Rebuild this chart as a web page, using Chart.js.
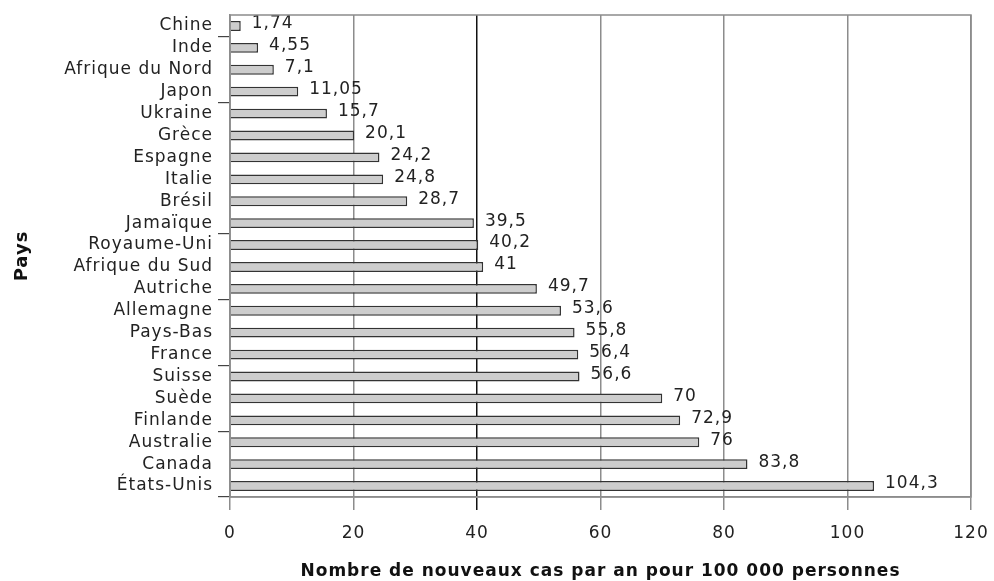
<!DOCTYPE html>
<html>
<head>
<meta charset="utf-8">
<script src="https://cdn.jsdelivr.net/npm/chart.js@4"></script>
<style>
  html, body { margin: 0; padding: 0; background: #fff; }
  #wrap { width: 994px; height: 581px; }
</style>
</head>
<body>
<div id="wrap"><canvas id="c" width="994" height="581"></canvas></div>
<script>
const categories = ["Chine", "Inde", "Afrique du Nord", "Japon", "Ukraine", "Grèce", "Espagne", "Italie", "Brésil", "Jamaïque", "Royaume-Uni", "Afrique du Sud", "Autriche", "Allemagne", "Pays-Bas", "France", "Suisse", "Suède", "Finlande", "Australie", "Canada", "États-Unis"];
const values = [1.74, 4.55, 7.1, 11.05, 15.7, 20.1, 24.2, 24.8, 28.7, 39.5, 40.2, 41, 49.7, 53.6, 55.8, 56.4, 56.6, 70, 72.9, 76, 83.8, 104.3];
const valueLabels = ["1,74", "4,55", "7,1", "11,05", "15,7", "20,1", "24,2", "24,8", "28,7", "39,5", "40,2", "41", "49,7", "53,6", "55,8", "56,4", "56,6", "70", "72,9", "76", "83,8", "104,3"];
const xTicks = [0, 20, 40, 60, 80, 100, 120];
const yTickMarks = [1, 4, 10, 13, 16, 19];
const xTitle = "Nombre de nouveaux cas par an pour 100 000 personnes";
const yTitle = "Pays";

const FONT = "'DejaVu Sans', sans-serif";
const TXT = '#222';
const GRID = '#8c8c8c';

const spacingPlugin = {
  id: 'spacing',
  beforeInit(chart) { chart.ctx.letterSpacing = '1px'; },
  beforeUpdate(chart) { chart.ctx.letterSpacing = '1px'; },
  beforeDraw(chart) { chart.ctx.letterSpacing = '1px'; }
};

const boxPlugin = {
  id: 'box',
  afterDraw(chart) {
    const a = chart.chartArea, ctx = chart.ctx;
    ctx.save();
    ctx.strokeStyle = GRID;
    ctx.lineWidth = 1.5;
    ctx.strokeRect(a.left, a.top, a.right - a.left, a.bottom - a.top);
    ctx.restore();
  }
};

const labelPlugin = {
  id: 'vlabels',
  afterDatasetsDraw(chart) {
    const ctx = chart.ctx;
    const meta = chart.getDatasetMeta(0);
    ctx.save();
    ctx.font = "17px " + FONT;
    ctx.fillStyle = TXT;
    ctx.textAlign = 'left';
    ctx.textBaseline = 'middle';
    meta.data.forEach((bar, i) => {
      ctx.fillText(valueLabels[i], bar.x + 11, bar.y - 2);
    });
    ctx.restore();
  }
};

new Chart(document.getElementById('c'), {
  type: 'bar',
  data: {
    labels: categories,
    datasets: [{
      data: values,
      backgroundColor: '#cdcdcd',
      borderColor: '#333',
      borderWidth: 1.5,
      barPercentage: 0.45,
      categoryPercentage: 1.0
    }]
  },
  options: {
    indexAxis: 'y',
    responsive: false,
    animation: false,
    devicePixelRatio: 1,
    layout: { padding: { top: 15, right: 23, left: 0, bottom: 0 } },
    plugins: { legend: { display: false }, tooltip: { enabled: false } },
    scales: {
      x: {
        min: 0, max: 120,
        z: 1,
        afterBuildTicks(scale) { scale.ticks = xTicks.map(v => ({ value: v })); },
        afterFit(scale) { scale.height = 84; scale.paddingLeft = 0; scale.paddingRight = 0; },
        grid: {
          color: c => (c.tick && c.tick.value === 40) ? '#111' : GRID,
          tickColor: c => (c.tick && c.tick.value === 40) ? '#111' : GRID,
          lineWidth: 1.5,
          tickLength: 13,
          drawTicks: true
        },
        border: { display: true, color: GRID, width: 1.5 },
        ticks: {
          color: TXT,
          font: { family: FONT, size: 17 },
          padding: 13,
          maxRotation: 0,
          callback: v => String(v)
        },
        title: {
          display: true,
          text: xTitle,
          color: '#111',
          font: { family: FONT, size: 17, weight: 'bold' },
          padding: { top: 0, bottom: -1 }
        }
      },
      y: {
        afterFit(scale) { scale.width = 230; scale.paddingTop = 0; scale.paddingBottom = 0; },
        grid: {
          drawOnChartArea: false,
          offset: true,
          tickLength: 12,
          lineWidth: 1.2,
          tickColor: c => (c.index === undefined || yTickMarks.includes(c.index)) ? '#444' : 'rgba(0,0,0,0)'
        },
        border: { display: true, color: GRID, width: 1.5 },
        ticks: {
          color: TXT,
          font: { family: FONT, size: 17 },
          padding: 5,
          autoSkip: false
        },
        title: {
          display: true,
          text: yTitle,
          color: '#111',
          font: { family: FONT, size: 18, weight: 'bold' },
          padding: { top: 12, bottom: 0 }
        }
      }
    }
  },
  plugins: [spacingPlugin, labelPlugin, boxPlugin]
});
</script>
</body>
</html>
